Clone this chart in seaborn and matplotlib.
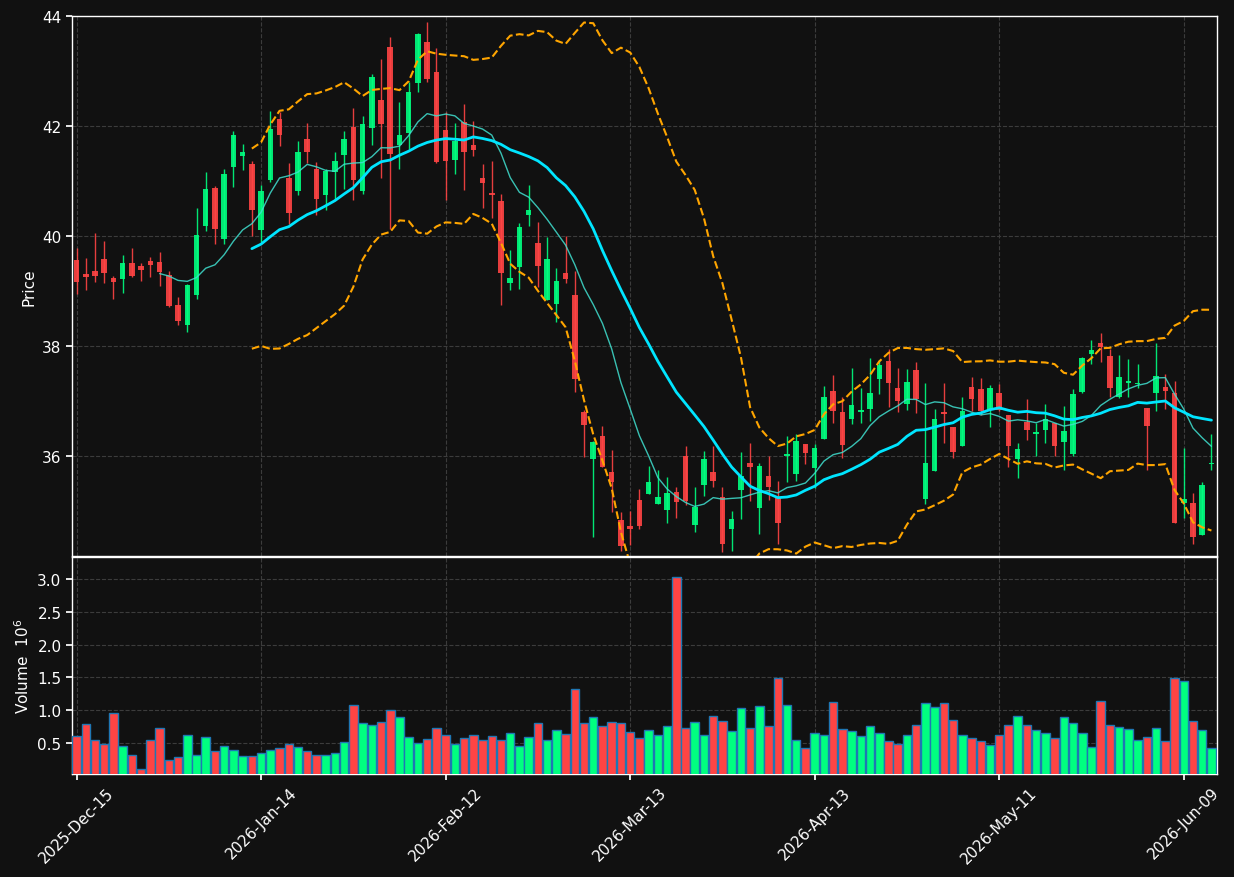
import numpy as np
import pandas as pd
import seaborn as sns
import matplotlib.pyplot as plt

# daily OHLC (124 sessions)
opens = [39.57, 39.30, 39.37, 39.59, 39.24, 39.21, 39.50, 39.46, 39.55, 39.52,
         39.29, 38.75, 38.39, 38.92, 40.19, 40.88, 39.94, 41.25, 41.45, 41.30,
         40.10, 41.02, 42.12, 41.06, 40.81, 41.77, 41.21, 40.74, 41.16, 41.48,
         41.99, 40.82, 41.97, 42.48, 43.44, 41.65, 41.88, 42.79, 43.53, 42.98,
         41.93, 41.39, 42.07, 41.66, 41.06, 40.79, 40.64, 39.14, 39.43, 40.39,
         39.87, 38.83, 38.77, 39.32, 38.93, 36.80, 35.94, 36.36, 35.71, 34.84,
         34.73, 35.19, 35.30, 35.12, 35.01, 35.35, 36.00, 34.74, 35.47, 35.70,
         35.26, 34.67, 35.38, 35.88, 35.05, 35.64, 35.24, 35.99, 35.67, 36.22,
         35.78, 36.30, 37.18, 36.79, 36.68, 36.79, 36.85, 37.39, 37.72, 37.24,
         36.94, 37.57, 35.21, 35.72, 36.79, 36.53, 36.18, 37.26, 37.22, 36.84,
         37.15, 36.75, 35.95, 36.62, 36.39, 36.48, 36.59, 36.25, 36.04, 37.16,
         37.85, 38.05, 37.82, 37.08, 37.32, 37.30, 36.88, 37.14, 37.25, 37.15,
         35.14, 35.15, 34.56, 35.85]
highs = [39.78, 39.60, 40.06, 39.91, 39.27, 39.66, 39.78, 39.50, 39.61, 39.70,
         39.36, 38.89, 39.12, 40.50, 41.16, 40.90, 41.22, 41.91, 41.68, 41.36,
         40.93, 42.27, 42.25, 41.32, 41.73, 42.05, 41.35, 41.22, 41.53, 41.91,
         42.33, 42.18, 42.94, 43.22, 43.62, 42.44, 42.80, 43.70, 43.90, 43.42,
         42.25, 42.05, 42.40, 42.10, 41.31, 41.36, 40.76, 39.74, 40.24, 40.93,
         40.25, 39.98, 39.41, 40.00, 39.36, 36.83, 36.28, 36.55, 36.10, 34.98,
         34.99, 35.39, 35.82, 35.75, 35.61, 35.44, 36.18, 35.44, 36.09, 36.18,
         35.44, 35.00, 36.08, 36.24, 35.87, 35.99, 35.55, 36.36, 36.39, 36.22,
         36.22, 37.27, 37.48, 37.07, 37.60, 37.24, 37.78, 37.74, 37.94, 37.60,
         37.58, 37.70, 37.33, 36.86, 37.33, 36.53, 37.07, 37.44, 37.41, 37.29,
         37.31, 36.75, 36.24, 37.04, 36.60, 36.95, 36.60, 36.91, 37.21, 37.80,
         38.10, 38.24, 37.95, 37.83, 37.76, 37.67, 36.88, 38.05, 37.49, 37.36,
         36.15, 35.33, 35.53, 36.40]
lows = [38.95, 39.01, 39.16, 39.14, 38.85, 38.96, 39.25, 39.18, 39.25, 39.09,
        38.70, 38.38, 38.25, 38.86, 40.09, 39.85, 39.85, 40.89, 41.20, 40.00,
        39.89, 40.99, 41.64, 40.22, 40.75, 41.32, 40.38, 40.48, 40.68, 40.85,
        40.65, 40.76, 41.65, 41.06, 40.13, 41.21, 41.58, 42.62, 42.80, 41.33,
        40.65, 41.13, 40.83, 41.45, 40.51, 40.32, 38.75, 39.02, 39.03, 40.19,
        39.07, 38.83, 38.44, 39.15, 37.16, 35.98, 34.52, 35.79, 34.98, 34.28,
        34.38, 34.67, 35.30, 35.12, 34.78, 34.87, 35.10, 34.62, 35.28, 35.43,
        34.25, 34.27, 34.85, 35.18, 34.58, 35.19, 34.39, 35.53, 35.55, 35.85,
        35.41, 36.30, 36.60, 35.96, 36.58, 36.60, 36.64, 37.13, 36.89, 36.80,
        36.84, 36.78, 35.12, 35.72, 36.24, 35.96, 36.18, 36.82, 36.75, 36.52,
        36.81, 35.80, 35.60, 36.29, 35.99, 36.24, 35.99, 35.75, 36.00, 37.15,
        37.68, 37.71, 37.07, 37.06, 37.07, 37.24, 35.75, 36.81, 36.86, 34.78,
        34.87, 34.40, 34.56, 35.74]
closes = [39.16, 39.25, 39.27, 39.32, 39.16, 39.50, 39.28, 39.39, 39.48, 39.35,
          38.72, 38.45, 39.10, 40.01, 40.86, 40.12, 41.12, 41.84, 41.53, 40.48,
          40.81, 41.95, 41.83, 40.41, 41.53, 41.52, 40.68, 41.19, 41.36, 41.77,
          41.02, 42.04, 42.90, 42.04, 41.50, 41.84, 42.61, 43.67, 42.86, 41.35,
          41.36, 41.72, 41.52, 41.56, 40.96, 40.74, 39.32, 39.24, 40.17, 40.48,
          39.45, 39.59, 39.19, 39.21, 37.39, 36.56, 36.25, 35.80, 35.53, 34.36,
          34.67, 34.72, 35.53, 35.26, 35.33, 35.16, 35.18, 35.08, 35.95, 35.54,
          34.39, 34.86, 35.64, 35.79, 35.82, 35.43, 34.78, 36.04, 36.28, 36.05,
          36.15, 37.08, 36.81, 36.19, 36.92, 36.84, 37.15, 37.66, 37.32, 36.99,
          37.35, 37.04, 35.88, 36.68, 36.77, 36.08, 36.81, 37.04, 36.82, 37.24,
          36.83, 36.18, 36.12, 36.48, 36.44, 36.68, 36.18, 36.46, 37.13, 37.78,
          37.93, 37.99, 37.24, 37.44, 37.36, 37.33, 36.54, 37.45, 37.18, 34.78,
          35.22, 34.52, 35.48, 35.88]
# volume in millions
volumes = [0.607, 0.790, 0.546, 0.485, 0.957, 0.454, 0.317, 0.104, 0.546, 0.729,
           0.241, 0.287, 0.622, 0.317, 0.590, 0.378, 0.454, 0.393, 0.300, 0.300,
           0.347, 0.393, 0.424, 0.485, 0.439, 0.378, 0.317, 0.317, 0.347, 0.515,
           1.080, 0.805, 0.774, 0.820, 1.003, 0.896, 0.590, 0.500, 0.561, 0.729,
           0.622, 0.485, 0.576, 0.622, 0.546, 0.607, 0.546, 0.652, 0.454, 0.591,
           0.805, 0.546, 0.698, 0.637, 1.323, 0.805, 0.896, 0.759, 0.820, 0.805,
           0.668, 0.576, 0.698, 0.622, 0.759, 3.030, 0.729, 0.820, 0.622, 0.912,
           0.835, 0.683, 1.034, 0.729, 1.064, 0.759, 1.490, 1.080, 0.546, 0.424,
           0.652, 0.622, 1.125, 0.713, 0.683, 0.607, 0.759, 0.652, 0.530, 0.485,
           0.622, 0.774, 1.110, 1.049, 1.110, 0.850, 0.622, 0.576, 0.530, 0.470,
           0.622, 0.774, 0.912, 0.774, 0.698, 0.652, 0.576, 0.896, 0.805, 0.652,
           0.439, 1.140, 0.774, 0.744, 0.713, 0.546, 0.590, 0.729, 0.530, 1.490,
           1.445, 0.835, 0.698, 0.424]

tick_pos = [0, 20, 40, 60, 80, 100, 120]
tick_labels = ['2025-Dec-15', '2026-Jan-14', '2026-Feb-12', '2026-Mar-13',
               '2026-Apr-13', '2026-May-11', '2026-Jun-09']

df = pd.DataFrame({'Open': opens, 'High': highs, 'Low': lows,
                   'Close': closes, 'Volume': volumes})
df['idx'] = np.arange(len(df))
df['SMA10'] = df['Close'].rolling(10).mean()
df['SMA20'] = df['Close'].rolling(20).mean()
std20 = df['Close'].rolling(20).std(ddof=0)
df['Upper'] = df['SMA20'] + 2 * std20
df['Lower'] = df['SMA20'] - 2 * std20

UP = '#00ff80'
DOWN = '#ff4444'
BG = '#111111'

sns.set_theme(style='darkgrid', rc={
    'figure.facecolor': BG, 'axes.facecolor': BG, 'axes.edgecolor': 'white',
    'axes.labelcolor': 'white', 'xtick.color': 'white', 'ytick.color': 'white',
    'text.color': 'white', 'grid.color': '#3c3c3c', 'grid.linestyle': '--',
    'grid.linewidth': 0.8, 'xtick.bottom': True, 'ytick.left': True,
    'axes.linewidth': 1.0,
})
plt.rcParams['font.family'] = ['DejaVu Sans']

fig = plt.figure(figsize=(12.34, 8.78), dpi=100)
ax1 = fig.add_axes([0.0583, 0.3656, 0.9279, 0.6150])
ax2 = fig.add_axes([0.0583, 0.1173, 0.9279, 0.2472], sharex=ax1)

up = df['Close'] >= df['Open']
colors = np.where(up, UP, DOWN)

# candles
ax1.vlines(df['idx'], df['Low'], df['High'], colors=colors, linewidth=1, alpha=0.9, zorder=2)
body_bottom = np.minimum(df['Open'], df['Close'])
body_height = np.maximum((df['Close'] - df['Open']).abs(), 0.03)
ax1.bar(df['idx'], body_height, bottom=body_bottom, width=0.6, color=colors,
        alpha=0.9, linewidth=0, zorder=3)

# indicators
sns.lineplot(data=df, x='idx', y='SMA10', ax=ax1, color='#40e0d0', linewidth=1, alpha=0.85, zorder=4)
sns.lineplot(data=df, x='idx', y='SMA20', ax=ax1, color='#00e5ff', linewidth=2, zorder=4)
sns.lineplot(data=df, x='idx', y='Upper', ax=ax1, color='orange', linewidth=1.5, linestyle='--', zorder=4)
sns.lineplot(data=df, x='idx', y='Lower', ax=ax1, color='orange', linewidth=1.5, linestyle='--', zorder=4)

ax1.set_ylim(34.18, 44.0)
ax1.set_yticks([36, 38, 40, 42, 44])
ax1.set_ylabel('Price', fontsize=11)
ax1.set_xlabel('')
ax1.tick_params(axis='x', labelbottom=False, length=0)
ax1.tick_params(axis='y', labelsize=11, length=4)

# volume
ax2.bar(df['idx'], df['Volume'], width=0.92, color=colors, edgecolor='#1f77b4',
        linewidth=1, zorder=3)
ax2.set_ylim(0.033, 3.33)
ax2.set_yticks([0.5, 1.0, 1.5, 2.0, 2.5, 3.0])
ax2.set_ylabel('Volume  $10^6$', fontsize=11)
ax2.tick_params(axis='y', labelsize=11, length=4)

ax2.set_xlim(-0.5, 123.6)
ax2.set_xticks(tick_pos)
ax2.set_xticklabels(tick_labels, rotation=45, fontsize=11)
ax2.tick_params(axis='x', length=4)

for ax in (ax1, ax2):
    ax.grid(True, linestyle='--', color='#3c3c3c', linewidth=0.8)
    for s in ax.spines.values():
        s.set_color('white')

plt.savefig('out.png', dpi=100, facecolor=BG)
